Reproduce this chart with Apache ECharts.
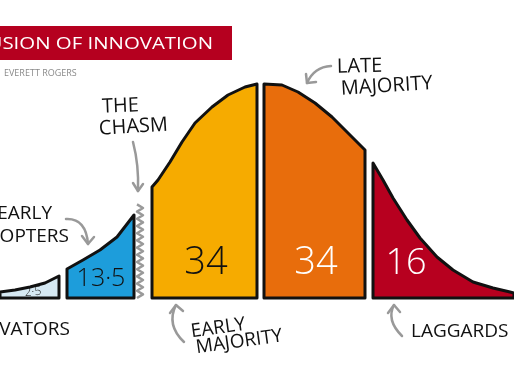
<!DOCTYPE html>
<html><head><meta charset="utf-8">
<script src="https://cdn.jsdelivr.net/npm/echarts@6/dist/echarts.min.js"></script>
<style>html,body{margin:0;padding:0;background:#fff}#c{width:514px;height:386px}</style>
</head><body><div id="c"></div>
<script>
// ---- data (position along the adoption timeline, curve height) ----
const segmentNames = ['INNOVATORS', 'EARLY ADOPTERS', 'EARLY MAJORITY', 'LATE MAJORITY', 'LAGGARDS'];
const segmentShares = ['2·5', '13·5', '34', '34', '16'];
const innovatorsCurve = [[0, 6], [15, 8], [30, 11], [45, 15], [59, 22]];
const earlyAdoptersCurve = [[67, 29], [83, 38], [100, 48], [117, 61], [134, 83]];
const earlyMajorityCurve = [[152, 111], [158, 118], [170, 136], [182, 156], [195, 175], [212, 191], [228, 203], [245, 211], [257, 214]];
const lateMajorityCurve = [[264, 214], [282, 213], [298, 206], [315, 195], [332, 181], [348, 165], [365, 148]];
const laggardsCurve = [[373, 135], [383, 118], [393, 100], [407, 78], [420, 60], [437, 41], [453, 28], [473, 16], [493, 10], [510, 6], [514, 5]];
const chasmPosition = [137, 143];   // x range of the chasm
const chasmHeight = 94;

// ---- styles ----
const fills = ['#d6e9f3', '#1d9ddb', '#f6ab00', '#e86d0c', '#b7001f'];
const shareColors = ['#111', '#111', '#111', '#fff', '#fff'];
const shareAnchors = [[33, 6], [101, 19], [206, 35], [316, 35], [406, 34]];
const shareSizes = [12, 25, 38, 38, 36];
const shareRot = [0.08, 0, 0, 0, 0];
const curves = [innovatorsCurve, earlyAdoptersCurve, earlyMajorityCurve, lateMajorityCurve, laggardsCurve];

function closed(curve) {
  const x0 = curve[0][0], x1 = curve[curve.length - 1][0];
  return [[x0, 0]].concat(curve, [[x1, 0], [x0, 0]]);
}

const chart = echarts.init(document.getElementById('c'));
chart.setOption({
  animation: false,
  backgroundColor: '#fff',
  grid: { left: 0, right: 0, top: 0, bottom: 88 },
  xAxis: { type: 'value', min: 0, max: 514, show: false },
  yAxis: { type: 'value', min: 0, max: 298, show: false },
  series: curves.map((c, i) => ({
    type: 'line',
    name: segmentNames[i],
    data: closed(c),
    showSymbol: false,
    symbol: 'none',
    smooth: false,
    clip: false,
    lineStyle: { color: '#111', width: 3, join: 'round', cap: 'round' },
    areaStyle: { color: fills[i], opacity: 1 },
    z: 2
  }))
});

const F = '"Open Sans", "DejaVu Sans", sans-serif';
const g = [];
// title bar
g.push({ type: 'rect', shape: { x: 0, y: 26, width: 232, height: 34 }, style: { fill: '#b5001f' }, z: 10 });
g.push({ type: 'text', x: 213, y: 44, scaleX: 1.2, originX: 0, originY: 0,
  style: { text: 'DIFFUSION OF INNOVATION', fill: '#fff', font: '17px ' + F, align: 'right', verticalAlign: 'middle' }, z: 11 });
g.push({ type: 'text', x: 4, y: 73, style: { text: 'EVERETT ROGERS', fill: '#8a8a8a', font: '9px ' + F, align: 'left', verticalAlign: 'middle' }, z: 11 });

// share numbers inside the segments
shareAnchors.forEach((a, i) => {
  const p = chart.convertToPixel({ gridIndex: 0 }, a);
  g.push({ type: 'text', x: p[0], y: p[1], rotation: shareRot[i],
    style: { text: segmentShares[i], fill: shareColors[i], font: '300 ' + shareSizes[i] + 'px ' + F, align: 'center', verticalAlign: 'middle' }, z: 12 });
});

// category labels
function lab(t, x, y, size, rot, align) {
  g.push({ type: 'text', x: x, y: y, rotation: rot || 0,
    style: { text: t, fill: '#111', font: size + 'px ' + F, align: align || 'left', verticalAlign: 'middle' }, z: 12 });
}
lab('THE', 102, 107, 20, 0.04);
lab('CHASM', 99, 129, 20, 0.06);
lab('EARLY', 52, 214, 19, 0, 'right');
lab('ADOPTERS', 69, 237, 19, 0, 'right');
lab('INNOVATORS', 70, 330, 19, 0, 'right');
lab('EARLY', 191, 332, 19, 0.14);
lab('MAJORITY', 196, 348, 19, 0.14);
lab('LATE', 337, 67, 20, 0.02);
lab('MAJORITY', 341, 89, 20, 0.06);
lab('LAGGARDS', 411, 332, 19, 0);

// chasm zigzag
const za = chart.convertToPixel({ gridIndex: 0 }, [chasmPosition[0], 0]);
const zb = chart.convertToPixel({ gridIndex: 0 }, [chasmPosition[1], chasmHeight]);
const zz = [];
let k = 0;
for (let y = za[1]; y >= zb[1]; y -= 3.6, k++) zz.push([k % 2 ? zb[0] : za[0], y]);
g.push({ type: 'polyline', shape: { points: zz }, style: { stroke: '#9a9a9a', lineWidth: 2.5, fill: null, lineJoin: 'round' }, z: 5 });

// grey arrows
function arrow(x1, y1, cx, cy, x2, y2, h1, h2) {
  g.push({ type: 'bezierCurve', shape: { x1: x1, y1: y1, cpx1: cx, cpy1: cy, x2: x2, y2: y2 },
    style: { stroke: '#999', lineWidth: 2.5, fill: null, lineCap: 'round' }, z: 6 });
  g.push({ type: 'polyline', shape: { points: [h1, [x2, y2], h2] },
    style: { stroke: '#999', lineWidth: 2.5, fill: null, lineCap: 'round', lineJoin: 'round' }, z: 6 });
}
arrow(66, 219, 86, 218, 88, 244, [82, 236], [94, 237]);
arrow(133, 142, 139, 165, 138, 191, [133, 183], [143, 184]);
arrow(331, 66, 314, 67, 307, 83, [306, 74], [316, 82]);
arrow(184, 342, 166, 325, 176, 305, [170, 313], [183, 311]);
arrow(402, 336, 386, 320, 394, 305, [388, 313], [400, 312]);

chart.setOption({ graphic: g });
</script></body></html>
